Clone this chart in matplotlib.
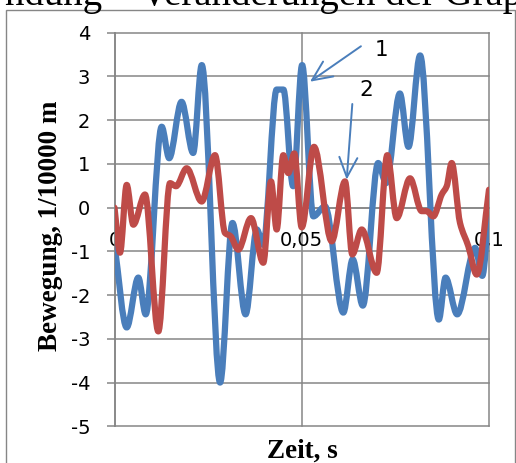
import numpy as np
import matplotlib.pyplot as plt
from matplotlib.path import Path
from matplotlib.patches import PathPatch, Rectangle

# curve 1 (blue)
time_1 = [0.0, 0.00326, 0.00636, 0.00833, 0.0126, 0.0146, 0.0179, 0.0210, 0.0233,
          0.0282, 0.0315, 0.0350, 0.0380, 0.0397, 0.0433, 0.0451, 0.0477, 0.0501,
          0.0531, 0.0562, 0.0611, 0.0636, 0.0663, 0.0704, 0.0725, 0.0762, 0.0785,
          0.0816, 0.0866, 0.0884, 0.0915, 0.0963, 0.0982, 0.1000]
bewegung_1 = [-0.85, -2.74, -1.60, -2.44, 1.85, 1.13, 2.42, 1.25, 3.26,
              -4.00, -0.35, -2.44, -0.50, -0.85, 2.70, 2.70, 0.49, 3.26,
              -0.20, 0.03, -2.40, -1.18, -2.24, 1.02, 0.56, 2.61, 1.39,
              3.48, -2.56, -1.60, -2.44, -0.92, -1.56, 0.0]

# curve 2 (red)
time_2 = [0.0, 0.00147, 0.00326, 0.00502, 0.00814, 0.01170, 0.01482, 0.01642,
          0.01928, 0.02328, 0.02684, 0.02951, 0.03097, 0.03306, 0.03645, 0.03973,
          0.04179, 0.04331, 0.04507, 0.04641, 0.04801, 0.04999, 0.05327, 0.05800,
          0.06155, 0.06350, 0.06601, 0.07001, 0.07284, 0.07535, 0.07891, 0.08203,
          0.08337, 0.08512, 0.08737, 0.08871, 0.09004, 0.09226, 0.09447, 0.09672,
          0.1000]
bewegung_2 = [0.0, -1.03, 0.52, -0.39, 0.30, -2.83, 0.56, 0.49,
              0.90, 0.14, 1.20, -0.58, -0.65, -0.96, -0.24, -1.26,
              0.60, -0.50, 1.20, 0.79, 1.24, -0.45, 1.39, -0.77,
              0.60, -1.07, -0.50, -1.49, 1.20, -0.24, 0.67, -0.08,
              -0.08, -0.20, 0.30, 0.49, 1.02, -0.35, -0.88, -1.53,
              0.41]

x_ticks = [0, 0.05, 0.1]
x_tick_labels = ["0", "0,05", "0,1"]
y_ticks = [-5, -4, -3, -2, -1, 0, 1, 2, 3, 4]

# curve labels with arrows
curve_labels = ["1", "2"]
arrow_tails = [(0.0658, 3.69), (0.0635, 2.37)]
arrow_tips = [(0.0522, 2.88), (0.0620, 0.64)]
label_pos = [(0.0712, 3.60), (0.0673, 2.69)]

BLUE = "#4a7ebb"
RED = "#be4b48"
GRID = "#868686"


def smooth_path(x, y):
    # Excel style smoothed line: cubic bezier pieces, flat tangents at turning points
    x = np.asarray(x, float)
    y = np.asarray(y, float)
    d = np.diff(y) / np.diff(x)
    m = np.zeros(len(x))
    m[0], m[-1] = d[0], d[-1]
    for i in range(1, len(x) - 1):
        if d[i - 1] * d[i] > 0:
            m[i] = 2.0 / (1.0 / d[i - 1] + 1.0 / d[i])
    verts = [(x[0], y[0])]
    codes = [Path.MOVETO]
    for i in range(len(x) - 1):
        h = x[i + 1] - x[i]
        verts += [(x[i] + h / 3, y[i] + m[i] * h / 3),
                  (x[i + 1] - h / 3, y[i + 1] - m[i + 1] * h / 3),
                  (x[i + 1], y[i + 1])]
        codes += [Path.CURVE4] * 3
    return Path(verts, codes)


plt.rcParams["axes.unicode_minus"] = False
plt.rcParams["savefig.bbox"] = "standard"
tick_font = "DejaVu Sans"
serif = "Liberation Serif"

fig = plt.figure(figsize=(5.16, 4.63), dpi=100)
ax = fig.add_axes([114.5 / 516, 1 - 426.3 / 463, (489 - 114.5) / 516, (426.3 - 32.7) / 463])

# spine position first - it resets the tick setup
for side in ["top", "right"]:
    ax.spines[side].set_visible(False)
ax.spines["bottom"].set_position(("data", 0))
for side in ["left", "bottom"]:
    ax.spines[side].set_color(GRID)
    ax.spines[side].set_linewidth(1.1)

ax.set_xlim(0, 0.1)
ax.set_ylim(-5, 4)
ax.set_xticks(x_ticks, x_tick_labels)
ax.set_yticks(y_ticks, [str(v) for v in y_ticks])
ax.tick_params(labelsize=14, labelfontfamily=tick_font)
ax.tick_params(axis="y", length=6, width=1.1, color=GRID, pad=11.5)
ax.tick_params(axis="x", length=0, pad=17)

ax.grid(True, color=GRID, linewidth=1.1)
for line in ax.get_xgridlines() + ax.get_ygridlines():
    line.set_clip_on(False)
ax.set_axisbelow(True)

for t, v, c in [(time_1, bewegung_1, BLUE), (time_2, bewegung_2, RED)]:
    ax.add_patch(PathPatch(smooth_path(t, v), fill=False, edgecolor=c, linewidth=4.5,
                           capstyle="round", joinstyle="round", zorder=3))

for name, tail, tip, pos in zip(curve_labels, arrow_tails, arrow_tips, label_pos):
    ax.annotate("", xy=tip, xytext=tail,
                arrowprops=dict(arrowstyle="->,head_length=1.1,head_width=0.5",
                                color=BLUE, lw=1.4, mutation_scale=13,
                                shrinkA=0, shrinkB=0), zorder=5)
    ax.text(pos[0], pos[1], name, fontfamily=tick_font, fontsize=15.5,
            ha="center", va="center", zorder=5)

fig.text(57 / 516, 1 - 225.5 / 463, "Bewegung, 1/10000 m", rotation=90,
         rotation_mode="anchor", ha="center", va="baseline",
         fontfamily=serif, fontweight="bold", fontsize=19.5)
fig.text(302 / 516, 5.5 / 463, "Zeit, s", ha="center", va="baseline",
         fontfamily=serif, fontweight="bold", fontsize=19.5)

# caption line of the page above the chart, mostly cut off
fig.text(5 / 516, 1 - 5 / 463, "ndung \u2013 Veränderungen der Grap",
         ha="left", va="baseline", fontfamily=serif, fontsize=28)

fig.add_artist(Rectangle((6 / 516, -0.05), 509 / 516, 1 - 10 / 463 + 0.05,
                         transform=fig.transFigure, fill=False,
                         edgecolor=GRID, linewidth=1.0))

plt.savefig("out.png", dpi=100)
plt.close()
